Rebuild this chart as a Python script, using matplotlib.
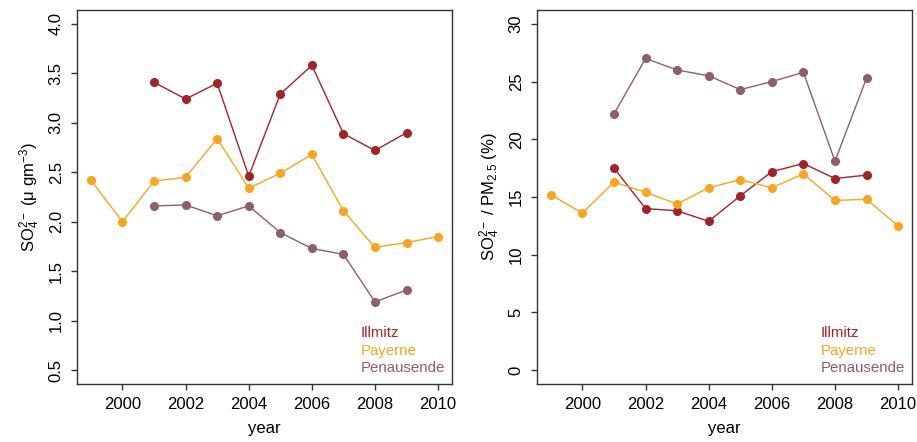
import matplotlib
matplotlib.use("Agg")
import matplotlib.pyplot as plt
from matplotlib.lines import Line2D

plt.rcParams['font.family'] = ['Liberation Sans', 'DejaVu Sans']
plt.rcParams['mathtext.fontset'] = 'custom'
plt.rcParams['mathtext.rm'] = 'Liberation Sans'
plt.rcParams['mathtext.it'] = 'Liberation Sans'

years_ill = [2001, 2002, 2003, 2004, 2005, 2006, 2007, 2008, 2009]
years_pay = [1999, 2000, 2001, 2002, 2003, 2004, 2005, 2006, 2007, 2008, 2009, 2010]
years_pen = [2001, 2002, 2003, 2004, 2005, 2006, 2007, 2008, 2009]

so4_ill = [3.41, 3.24, 3.40, 2.46, 3.29, 3.58, 2.89, 2.72, 2.90]
so4_pay = [2.42, 2.00, 2.41, 2.45, 2.84, 2.34, 2.49, 2.68, 2.11, 1.74, 1.79, 1.85]
so4_pen = [2.16, 2.17, 2.06, 2.16, 1.89, 1.73, 1.67, 1.19, 1.31]

frac_ill = [17.5, 14.0, 13.8, 12.9, 15.1, 17.2, 17.9, 16.6, 16.9]
frac_pay = [15.2, 13.6, 16.3, 15.4, 14.4, 15.8, 16.5, 15.8, 17.0, 14.7, 14.8, 12.5]
frac_pen = [22.2, 27.0, 26.0, 25.5, 24.3, 25.0, 25.8, 18.1, 25.3]

sites = ['Illmitz', 'Payerne', 'Penausende']
colors = ['#A3232A', '#F9A51E', '#8E5E6B']

left_ticks = [0.5, 1.0, 1.5, 2.0, 2.5, 3.0, 3.5, 4.0]
right_ticks = [0, 5, 10, 15, 20, 25, 30]
x_ticks = [2000, 2002, 2004, 2006, 2008, 2010]

fig = plt.figure(figsize=(9.17, 4.42), dpi=100)
ax1 = fig.add_axes([77/917, 1-384/442, 375/917, 374/442])
ax2 = fig.add_axes([537/917, 1-384/442, 375/917, 374/442])

def style(ax, yticks, ylim):
    for s in ax.spines.values():
        s.set_linewidth(1.0)
        s.set_color('#333333')
    ax.set_xlim(1998.56, 2010.44)
    r = ylim[1] - ylim[0]
    ax.set_ylim(ylim[0] - 0.04*r, ylim[1] + 0.04*r)
    ax.set_xticks(x_ticks)
    ax.set_xticklabels([str(t) for t in x_ticks])
    ax.set_yticks(yticks)
    ax.set_yticklabels([('%g' % t) if isinstance(t, int) else ('%.1f' % t) for t in yticks],
                       rotation=90, va='center')
    ax.tick_params(direction='out', length=4.5, width=1, labelsize=12, color='#333333', pad=5)
    ax.tick_params(axis='x', pad=5)
    ax.set_xlabel('year', fontsize=12, labelpad=6)

datasets = [
    (ax1, [(years_ill, so4_ill), (years_pay, so4_pay), (years_pen, so4_pen)]),
    (ax2, [(years_ill, frac_ill), (years_pay, frac_pay), (years_pen, frac_pen)]),
]
for ax, series in datasets:
    for (x, y), c in zip(series, colors):
        ax.plot(x, y, color=c, lw=1.0, marker='o', ms=5.5, mec=c, mfc=c)
    handles = [Line2D([], [], linestyle='none') for _ in sites]
    leg = ax.legend(handles, sites, loc='lower right', frameon=False, handlelength=0,
                    handletextpad=0, labelspacing=0.22, fontsize=10.8,
                    bbox_to_anchor=(1.005, 0.0), borderaxespad=0.2)
    for t, c in zip(leg.get_texts(), colors):
        t.set_color(c)

style(ax1, left_ticks, (0.5, 4.0))
style(ax2, right_ticks, (0, 30))
ax1.set_ylabel(r'SO$_4^{2-}$ ($\mu$ gm$^{-3}$)', fontsize=12, labelpad=5)
ax2.set_ylabel(r'SO$_4^{2-}$ / PM$_{2.5}$ (%)', fontsize=12, labelpad=5)

fig.savefig('out.png', dpi=100)
